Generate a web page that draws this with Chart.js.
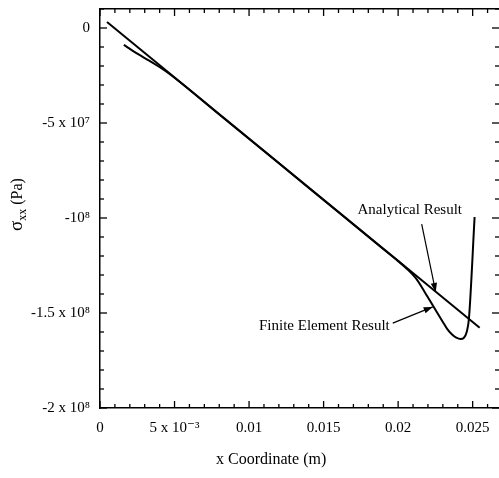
<!DOCTYPE html>
<html><head><meta charset="utf-8">
<script src="https://cdn.jsdelivr.net/npm/chart.js@4.4.0/dist/chart.umd.min.js"></script>
<style>html,body{margin:0;padding:0;background:#fff;}</style>
</head><body>
<canvas id="c" width="499" height="478"></canvas>
<script>
// ---- data ----
const xTickValues = [0, 0.005, 0.01, 0.015, 0.02, 0.025];
const xTickLabels = ['0', '5 x 10\u207B\u00B3', '0.01', '0.015', '0.02', '0.025'];
const yTickValues = [0, -5e7, -1e8, -1.5e8, -2e8];
const yTickLabels = ['0', '-5 x 10\u2077', '-10\u2078', '-1.5 x 10\u2078', '-2 x 10\u2078'];

const analyticalX = [0.00047, 0.02547];
const analyticalY = [3.2e6, -1.578e8];

const feX = [0.0016, 0.0022, 0.0030, 0.0038, 0.0046, 0.008, 0.012, 0.016, 0.019, 0.0200, 0.0206, 0.0212, 0.0218, 0.0224, 0.0230, 0.0233, 0.0236, 0.0239, 0.0242, 0.0244, 0.0246, 0.02475, 0.02513];
const feY = [-8.9e6, -1.2e7, -1.58e7, -1.96e7, -2.38e7, -4.55e7, -7.12e7, -9.7e7, -1.163e8, -1.227e8, -1.268e8, -1.318e8, -1.392e8, -1.47e8, -1.547e8, -1.585e8, -1.612e8, -1.630e8, -1.637e8, -1.632e8, -1.60e8, -1.53e8, -0.995e8];

const xTitle = 'x Coordinate (m)';
const yTitleMain = '\u03C3', yTitleSub = 'xx', yTitleRest = ' (Pa)';
const labelAnalytical = 'Analytical Result';
const labelFE = 'Finite Element Result';

// annotation anchors (data coordinates)
const annotations = [
  {text: labelAnalytical, x: 0.02078, y: -0.958e8, align: 'center',
   arrow: [0.02158, -1.032e8, 0.02252, -1.389e8]},
  {text: labelFE, x: 0.01944, y: -1.568e8, align: 'right',
   arrow: [0.01964, -1.553e8, 0.02232, -1.468e8]}
];

const SERIF = "'Liberation Serif', 'DejaVu Serif', serif";

const toPts = (xs, ys) => xs.map((v, i) => ({x: v, y: ys[i]}));

function arrow(ctx, x1, y1, x2, y2) {
  ctx.beginPath(); ctx.moveTo(x1, y1); ctx.lineTo(x2, y2); ctx.stroke();
  const ang = Math.atan2(y2 - y1, x2 - x1), L = 9, W = 3.2;
  ctx.beginPath();
  ctx.moveTo(x2, y2);
  ctx.lineTo(x2 - L * Math.cos(ang) + W * Math.sin(ang), y2 - L * Math.sin(ang) - W * Math.cos(ang));
  ctx.lineTo(x2 - L * Math.cos(ang) - W * Math.sin(ang), y2 - L * Math.sin(ang) + W * Math.cos(ang));
  ctx.closePath(); ctx.fill();
}

const decor = {
  id: 'decor',
  afterDraw(chart) {
    const {ctx, chartArea: a, scales: {x, y}} = chart;
    ctx.save();
    ctx.strokeStyle = '#000'; ctx.fillStyle = '#000'; ctx.lineWidth = 1.3;
    const seg = (x1, y1, x2, y2) => { ctx.beginPath(); ctx.moveTo(x1, y1); ctx.lineTo(x2, y2); ctx.stroke(); };
    for (let i = 0; i <= 26; i++) {
      const v = i * 0.001, px = x.getPixelForValue(v), len = (i % 5 === 0) ? 7 : 4;
      seg(px, a.bottom, px, a.bottom - len);
      seg(px, a.top, px, a.top + len);
    }
    for (let i = -20; i <= 1; i++) {
      const v = i * 1e7, py = y.getPixelForValue(v), len = (i % 5 === 0) ? 7 : 4;
      seg(a.left, py, a.left + len, py);
      seg(a.right + 1, py, a.right + 1 - len, py);
    }
    ctx.lineWidth = 1.2;
    annotations.forEach(an => {
      ctx.font = '15px ' + SERIF;
      ctx.textAlign = an.align; ctx.textBaseline = 'middle';
      ctx.fillText(an.text, x.getPixelForValue(an.x), y.getPixelForValue(an.y));
      const [ax1, ay1, ax2, ay2] = an.arrow;
      arrow(ctx, x.getPixelForValue(ax1), y.getPixelForValue(ay1), x.getPixelForValue(ax2), y.getPixelForValue(ay2));
    });
    ctx.font = '16px ' + SERIF; ctx.textAlign = 'center'; ctx.textBaseline = 'middle';
    ctx.fillText(xTitle, a.left + 0.43 * (a.right - a.left), 460);
    ctx.translate(17, (a.top + a.bottom) / 2 - 4);
    ctx.rotate(-Math.PI / 2);
    const f1 = '19px ' + SERIF, f2 = '12px ' + SERIF, f3 = '16px ' + SERIF;
    ctx.font = f1; const w1 = ctx.measureText(yTitleMain).width;
    ctx.font = f2; const w2 = ctx.measureText(yTitleSub).width;
    ctx.font = f3; const w3 = ctx.measureText(yTitleRest).width;
    let cx = -(w1 + w2 + w3) / 2;
    ctx.textAlign = 'left'; ctx.textBaseline = 'alphabetic';
    ctx.font = f1; ctx.fillText(yTitleMain, cx, 5); cx += w1;
    ctx.font = f2; ctx.fillText(yTitleSub, cx, 9); cx += w2;
    ctx.font = f3; ctx.fillText(yTitleRest, cx, 5);
    ctx.restore();
  }
};

const border = {display: true, color: '#000', width: 1.5};
const noPad = s => { s.paddingTop = 0; s.paddingBottom = 0; s.paddingLeft = 0; s.paddingRight = 0; };

new Chart(document.getElementById('c'), {
  type: 'line',
  data: {
    datasets: [
      {label: 'Analytical Result', data: toPts(analyticalX, analyticalY), borderColor: '#000', borderWidth: 2, pointRadius: 0, tension: 0},
      {label: 'Finite Element Result', data: toPts(feX, feY), borderColor: '#000', borderWidth: 2, pointRadius: 0, cubicInterpolationMode: 'monotone'}
    ]
  },
  options: {
    responsive: false, animation: false, devicePixelRatio: 1,
    layout: {padding: 0},
    plugins: {legend: {display: false}, tooltip: {enabled: false}},
    scales: {
      x: {
        type: 'linear', position: 'bottom', min: 0, max: 0.0267,
        grid: {display: false, drawTicks: false}, border,
        afterBuildTicks: s => { s.ticks = xTickValues.map(v => ({value: v})); },
        afterFit: s => { s.height = 70; noPad(s); },
        ticks: {padding: 11, color: '#000', font: {family: SERIF, size: 15}, maxRotation: 0, autoSkip: false,
          callback: v => { const i = xTickValues.findIndex(t => Math.abs(t - v) < 1e-9); return i >= 0 ? xTickLabels[i] : ''; }}
      },
      x2: {
        type: 'linear', position: 'top', min: 0, max: 0.0267,
        grid: {display: false, drawTicks: false}, border, ticks: {display: false},
        afterFit: s => { s.height = 9; noPad(s); }
      },
      y: {
        type: 'linear', position: 'left', min: -2e8, max: 1e7,
        grid: {display: false, drawTicks: false}, border,
        afterBuildTicks: s => { s.ticks = yTickValues.map(v => ({value: v})); },
        afterFit: s => { s.width = 100; noPad(s); },
        ticks: {padding: 10, color: '#000', font: {family: SERIF, size: 15}, autoSkip: false,
          callback: v => { const i = yTickValues.findIndex(t => Math.abs(t - v) < 1); return i >= 0 ? yTickLabels[i] : ''; }}
      },
      y2: {
        type: 'linear', position: 'right', min: -2e8, max: 1e7,
        grid: {display: false, drawTicks: false}, border: {display: false}, ticks: {display: false},
        afterFit: s => { s.width = 1; noPad(s); }
      }
    }
  },
  plugins: [decor]
});
</script>
</body></html>
